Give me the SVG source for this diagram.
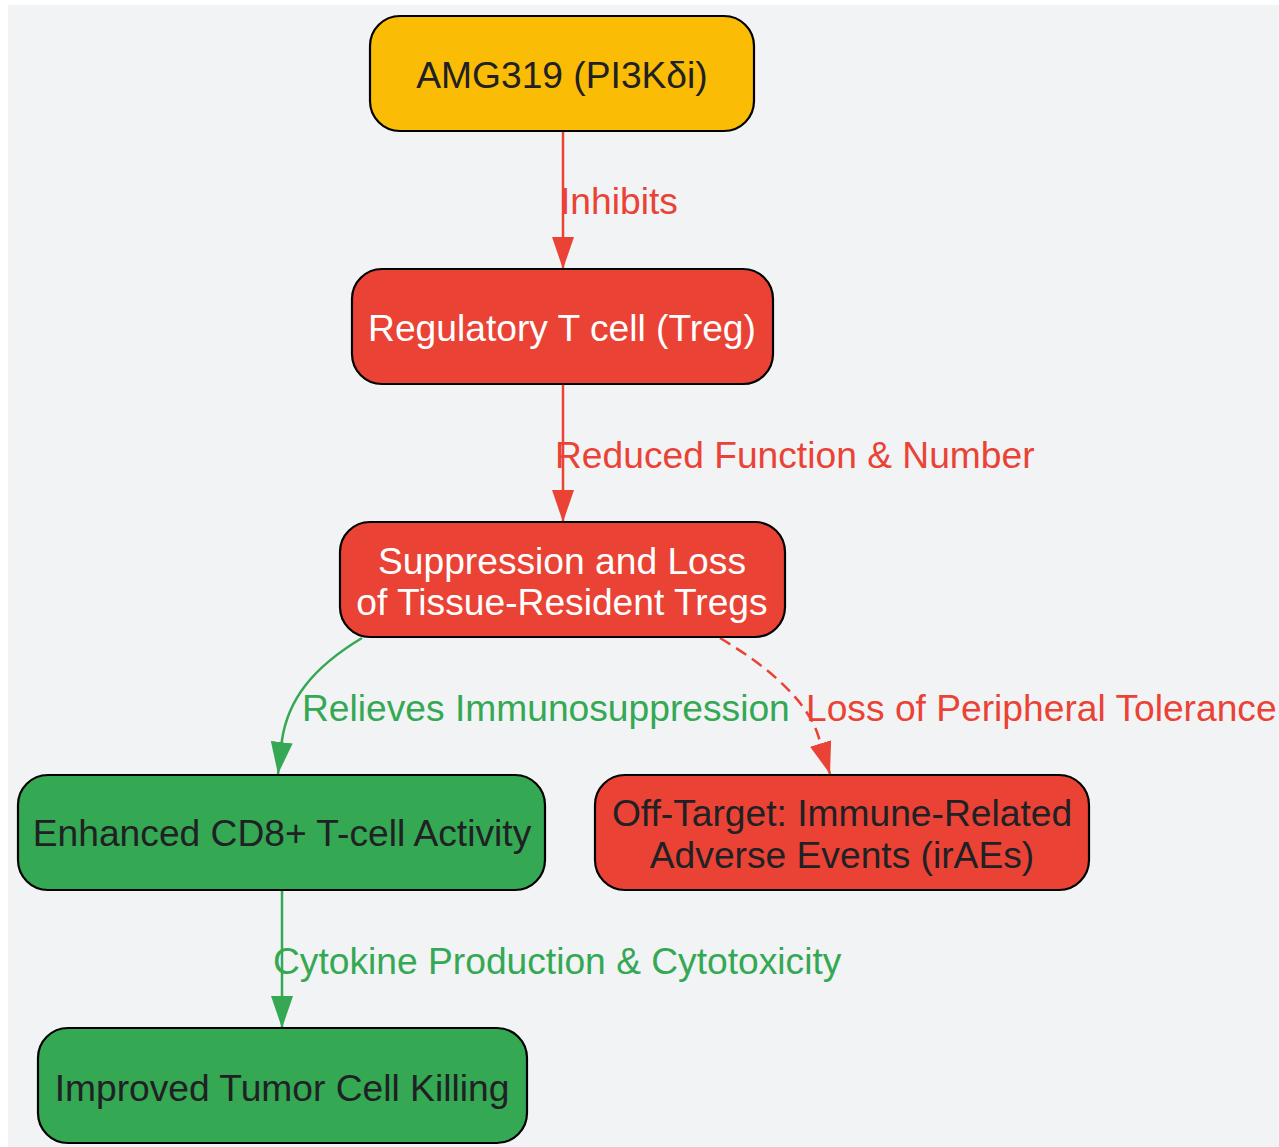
<svg xmlns="http://www.w3.org/2000/svg" width="1279" height="1147" viewBox="0 0 1279 1147">
<defs>
<style>
.node rect{stroke:#000;stroke-width:2.2}
.nt{font-family:"Liberation Sans",Arial,sans-serif;font-size:37.2px;text-anchor:middle}
.dark{fill:#202124}
.light{fill:#ffffff}
.lbl{font-family:"Liberation Sans",Arial,sans-serif;font-size:37.2px}
.edge{fill:none;stroke-width:2.5}
.red{stroke:#EA4335}
.green{stroke:#34A853}
</style>
<marker id="ar" markerUnits="userSpaceOnUse" markerWidth="32" markerHeight="22" refX="32" refY="11" orient="auto" viewBox="0 0 32 22">
<path d="M0,0 L32,11 L0,22 z" fill="#EA4335"/>
</marker>
<marker id="ag" markerUnits="userSpaceOnUse" markerWidth="32" markerHeight="22" refX="32" refY="11" orient="auto" viewBox="0 0 32 22">
<path d="M0,0 L32,11 L0,22 z" fill="#34A853"/>
</marker>
</defs>
<rect x="8" y="5" width="1271" height="1142" fill="#F1F3F5"/>
<g id="connectors">
<path class="edge red" d="M563,131 L563,269" marker-end="url(#ar)"/>
<text class="lbl" x="560" y="214" fill="#EA4335">Inhibits</text>
<path class="edge red" d="M563,384 L563,522" marker-end="url(#ar)"/>
<text class="lbl" x="555" y="468" fill="#EA4335">Reduced Function &amp; Number</text>
<path class="edge green" d="M362,638 C312,668 288,700 282,740 L278,774" marker-end="url(#ag)"/>
<text class="lbl" x="302" y="721" fill="#34A853">Relieves Immunosuppression</text>
<path class="edge red" d="M720,638 C770,668 806,700 818,735 L830,774" stroke-dasharray="12,7" marker-end="url(#ar)"/>
<text class="lbl" x="806" y="721" fill="#EA4335">Loss of Peripheral Tolerance</text>
<path class="edge green" d="M282,890 L282,1028" marker-end="url(#ag)"/>
<text class="lbl" x="273" y="974" fill="#34A853">Cytokine Production &amp; Cytotoxicity</text>
</g>
<g id="n1" class="node">
<rect x="370" y="16" width="384" height="115" rx="30" fill="#FBBC05"/>
<text class="nt dark" x="562" y="88">AMG319 (PI3Kδi)</text>
</g>
<g id="n2" class="node">
<rect x="352" y="269" width="421" height="115" rx="30" fill="#EA4335"/>
<text class="nt light" x="562" y="341">Regulatory T cell (Treg)</text>
</g>
<g id="n3" class="node">
<rect x="340" y="522" width="445" height="115" rx="30" fill="#EA4335"/>
<text class="nt light" x="562" y="574">Suppression and Loss</text>
<text class="nt light" x="562" y="615">of Tissue-Resident Tregs</text>
</g>
<g id="n4" class="node">
<rect x="18" y="775" width="527" height="115" rx="30" fill="#34A853"/>
<text class="nt dark" x="282" y="846">Enhanced CD8+ T-cell Activity</text>
</g>
<g id="n5" class="node">
<rect x="595" y="775" width="494" height="115" rx="30" fill="#EA4335"/>
<text class="nt dark" x="842" y="826">Off-Target: Immune-Related</text>
<text class="nt dark" x="842" y="868">Adverse Events (irAEs)</text>
</g>
<g id="n6" class="node">
<rect x="38" y="1028" width="489" height="115" rx="30" fill="#34A853"/>
<text class="nt dark" x="282" y="1101">Improved Tumor Cell Killing</text>
</g>
</svg>
